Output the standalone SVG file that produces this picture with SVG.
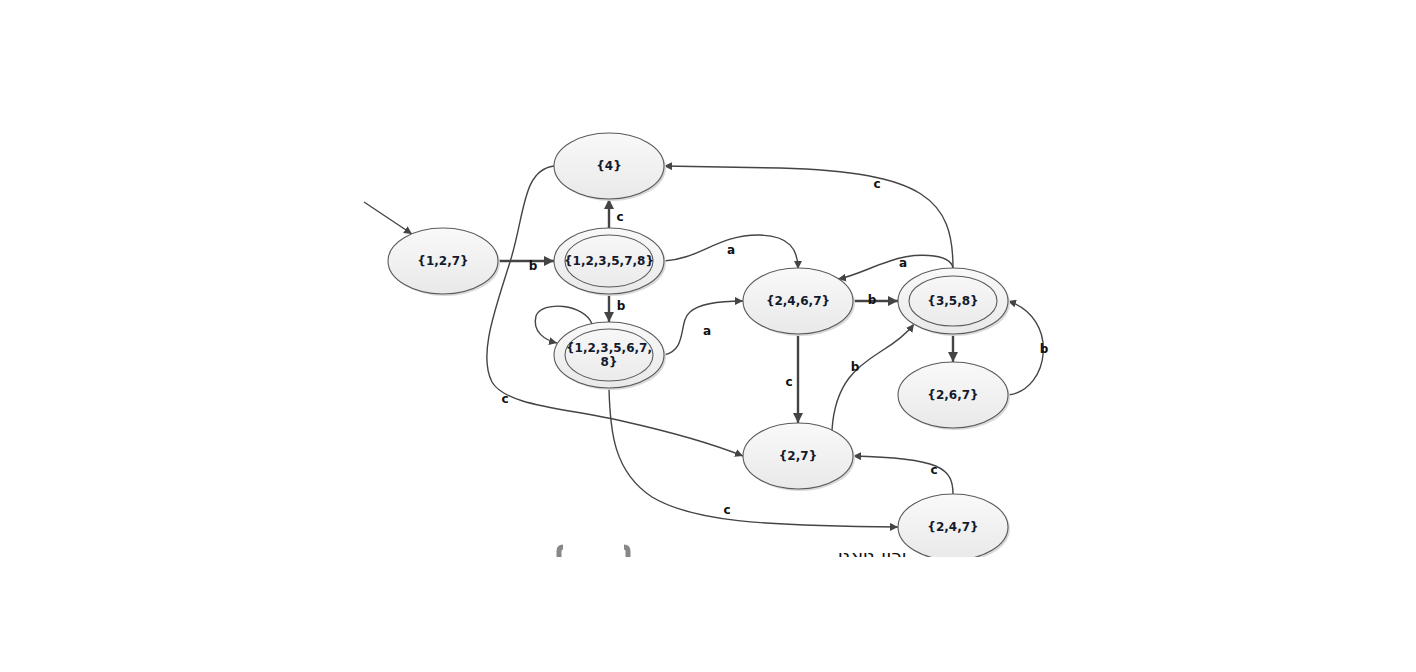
<svg xmlns="http://www.w3.org/2000/svg" width="1416" height="672" viewBox="0 0 1416 672">
  <style>
    .node { fill: url(#nodeFill); stroke: #5a5a5a; stroke-width: 1.1; }
    .inner { fill: none; stroke: #5a5a5a; stroke-width: 1.1; }
    .shadow { fill: #d9d9d9; }
    .lbl { font-family: "DejaVu Sans", Verdana, sans-serif; font-weight: bold; font-size: 12px; fill: #141a2e; text-anchor: middle; }
    .elbl { font-family: "DejaVu Sans", Verdana, sans-serif; font-weight: bold; font-size: 12px; fill: #111; text-anchor: middle; }
    .edge { fill: none; stroke: #444; stroke-width: 1.4; marker-end: url(#arr); }
    .thick { fill: none; stroke: #444; stroke-width: 2.4; marker-end: url(#arrT); }
  </style>
  <defs>
    <linearGradient id="nodeFill" x1="0" y1="0" x2="0" y2="1">
      <stop offset="0" stop-color="#f9f9f9"/>
      <stop offset="1" stop-color="#e9e9e9"/>
    </linearGradient>
    <marker id="arr" viewBox="0 0 10 10" refX="10" refY="5" markerWidth="8" markerHeight="8" orient="auto" markerUnits="userSpaceOnUse">
      <path d="M0,0 L10,5 L0,10 Z" fill="#444"/>
    </marker>
    <marker id="arrT" viewBox="0 0 10 10" refX="10" refY="5" markerWidth="10" markerHeight="10" orient="auto" markerUnits="userSpaceOnUse">
      <path d="M0,0 L10,5 L0,10 Z" fill="#444"/>
    </marker>
    <clipPath id="page">
      <rect x="0" y="0" width="1416" height="557"/>
    </clipPath>
  </defs>
  <rect x="0" y="0" width="1416" height="672" fill="#ffffff"/>

  <g clip-path="url(#page)">
    <!-- page footer, cut off by the page edge -->
    <g id="footer">
      <path d="M559,557 L559,551 Q559,547 563,547" fill="none" stroke="#888" stroke-width="5"/>
      <path d="M628,557 L628,551 Q628,547 624,547" fill="none" stroke="#888" stroke-width="5"/>
      <text x="872" y="563" font-family="'DejaVu Sans', sans-serif" font-size="19" fill="#111" text-anchor="middle">ירון ניאנו</text>
    </g>

    <!-- connectors -->
    <g id="connectors">
      <path class="edge" d="M364,202 L412,234"/>
      <path class="thick" d="M498,261 L554,261"/>
      <path class="thick" d="M609,228 L609,199"/>
      <path class="thick" d="M609,294 L609,322"/>
      <path class="edge" d="M592,324 C585,304 542,300 536,316 C532,332 545,340 557,343"/>
      <path class="edge" d="M664,261 C700,259 718,235 758,235 C790,235 798,250 798,269"/>
      <path class="edge" d="M664,355 C688,350 678,322 690,312 C700,303 720,301 743,301"/>
      <path class="thick" d="M853,301 L898,301"/>
      <path class="edge" d="M953,268 C950,252 912,253 890,261 C868,268 855,276 838,279"/>
      <path class="edge" d="M953,268 C953,200 925,172 780,168 L664,166"/>
      <path class="thick" d="M953,334 L953,362"/>
      <path class="edge" d="M1008,395 C1050,390 1060,318 1008,301"/>
      <path class="thick" d="M798,334 L798,423"/>
      <path class="edge" d="M832,430 C835,382 858,366 880,352 C898,341 908,332 914,324"/>
      <path class="edge" d="M554,166 C522,170 525,215 510,262 C495,310 478,355 492,382 C506,406 565,408 622,421 C680,434 718,446 743,456"/>
      <path class="edge" d="M609,388 C610,432 614,472 652,497 C692,521 760,526 898,527"/>
      <path class="edge" d="M953,494 C953,468 940,458 853,456"/>

      <text class="elbl" x="533" y="270">b</text>
      <text class="elbl" x="620" y="221">c</text>
      <text class="elbl" x="621" y="310">b</text>
      <text class="elbl" x="731" y="254">a</text>
      <text class="elbl" x="707" y="335">a</text>
      <text class="elbl" x="872" y="304">b</text>
      <text class="elbl" x="903" y="267">a</text>
      <text class="elbl" x="877" y="188">c</text>
      <text class="elbl" x="1044" y="353">b</text>
      <text class="elbl" x="789" y="386">c</text>
      <text class="elbl" x="855" y="371">b</text>
      <text class="elbl" x="505" y="403">c</text>
      <text class="elbl" x="727" y="514">c</text>
      <text class="elbl" x="934" y="474">c</text>
    </g>

    <!-- states -->
    <g id="n4">
      <ellipse class="shadow" cx="611" cy="168" rx="55" ry="33"/>
      <ellipse class="node" cx="609" cy="166" rx="55" ry="33"/>
      <text class="lbl" x="609" y="170">{4}</text>
    </g>
    <g id="n127">
      <ellipse class="shadow" cx="445" cy="263" rx="55" ry="33"/>
      <ellipse class="node" cx="443" cy="261" rx="55" ry="33"/>
      <text class="lbl" x="443" y="265">{1,2,7}</text>
    </g>
    <g id="n123578">
      <ellipse class="shadow" cx="611" cy="263" rx="55" ry="33"/>
      <ellipse class="node" cx="609" cy="261" rx="55" ry="33"/>
      <ellipse class="inner" cx="609" cy="261" rx="44" ry="26"/>
      <text class="lbl" x="609" y="265">{1,2,3,5,7,8}</text>
    </g>
    <g id="n1235678">
      <ellipse class="shadow" cx="611" cy="357" rx="55" ry="33"/>
      <ellipse class="node" cx="609" cy="355" rx="55" ry="33"/>
      <ellipse class="inner" cx="609" cy="355" rx="44" ry="26"/>
      <text class="lbl" x="609" y="352">{1,2,3,5,6,7,</text>
      <text class="lbl" x="609" y="366">8}</text>
    </g>
    <g id="n2467">
      <ellipse class="shadow" cx="800" cy="303" rx="55" ry="33"/>
      <ellipse class="node" cx="798" cy="301" rx="55" ry="33"/>
      <text class="lbl" x="798" y="305">{2,4,6,7}</text>
    </g>
    <g id="n358">
      <ellipse class="shadow" cx="955" cy="303" rx="55" ry="33"/>
      <ellipse class="node" cx="953" cy="301" rx="55" ry="33"/>
      <ellipse class="inner" cx="953" cy="301" rx="44" ry="25"/>
      <text class="lbl" x="953" y="305">{3,5,8}</text>
    </g>
    <g id="n267">
      <ellipse class="shadow" cx="955" cy="397" rx="55" ry="33"/>
      <ellipse class="node" cx="953" cy="395" rx="55" ry="33"/>
      <text class="lbl" x="953" y="399">{2,6,7}</text>
    </g>
    <g id="n27">
      <ellipse class="shadow" cx="800" cy="458" rx="55" ry="33"/>
      <ellipse class="node" cx="798" cy="456" rx="55" ry="33"/>
      <text class="lbl" x="798" y="460">{2,7}</text>
    </g>
    <g id="n247">
      <ellipse class="shadow" cx="955" cy="529" rx="55" ry="33"/>
      <ellipse class="node" cx="953" cy="527" rx="55" ry="33"/>
      <text class="lbl" x="953" y="531">{2,4,7}</text>
    </g>
  </g>
</svg>
